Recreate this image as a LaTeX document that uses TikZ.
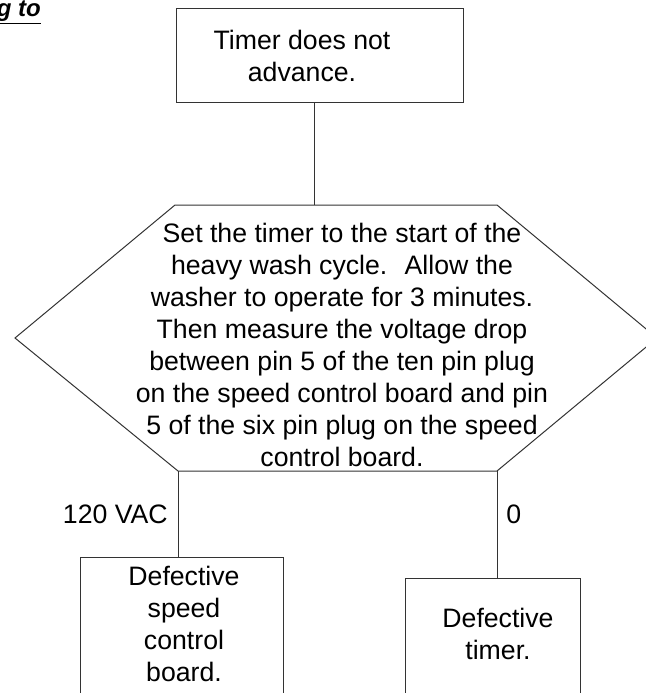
\documentclass[tikz,border=0pt]{standalone}
\usepackage{fontspec}
\setmainfont{Liberation Sans}
\usetikzlibrary{positioning}

\begin{document}
\begin{tikzpicture}[x=0.75pt, y=-0.75pt,
    every node/.style={font=\fontsize{20}{24}\selectfont, inner sep=0pt},
    box/.style={draw=black!80, line width=0.75pt, rectangle},
    txt/.style={align=center},
    link/.style={draw=black!80, line width=0.75pt}]
    \def\u{0.75pt}
    \useasboundingbox (0,0) rectangle (646,693);
    \clip (0,0) rectangle (646,693);

    % heading (cut off at the page edge)
    \node[anchor=base east, font=\fontsize{18}{21}\selectfont] (head) at (41,16) {\underline{\textbf{\textit{g to}}}};

    % start box
    \node[box, minimum width=287*\u, minimum height=94*\u] (start) at (319.5,55) {};
    \node[txt] (starttxt) at (302,55.5) {Timer does not\\advance.};

    % test hexagon
    \coordinate (hexW) at (15,338);
    \coordinate (hexTL) at (175,205);
    \coordinate (hexTR) at (497,205);
    \coordinate (hexE) at (657,338);
    \coordinate (hexBR) at (497,471);
    \coordinate (hexBL) at (178,471);
    \coordinate (hexTop) at (314,205);
    \draw[link] (hexW) -- (hexTL) -- (hexTR) -- (hexE) -- (hexBR) -- (hexBL) -- cycle;
    \node[txt] (test) at (342,345) {Set the timer to the start of the\\
        heavy wash cycle.~ Allow the\\
        washer to operate for 3 minutes.\\
        Then measure the voltage drop\\
        between pin 5 of the ten pin plug\\
        on the speed control board and pin\\
        5 of the six pin plug on the speed\\
        control board.};

    % results
    \node[box, anchor=north, minimum width=203*\u, minimum height=200*\u] (board) at (181.5,557) {};
    \node[txt, anchor=north] (boardtxt) at (184,565.5) {Defective\\speed\\control\\board.};
    \node[box, anchor=north, minimum width=175*\u, minimum height=200*\u] (timer) at (492.5,578) {};
    \node[txt, anchor=north] (timertxt) at (498,607.5) {Defective\\timer.};

    % edges
    \draw[link] (start.south -| hexTop) -- (hexTop);
    \draw[link] (hexBL) -- (hexBL |- board.north);
    \draw[link] (hexBR) -- (hexBR |- timer.north);

    % edge labels
    \node[anchor=base east] (volts) at (168,523) {120 VAC};
    \node[anchor=base west] (zero) at (506,523) {0};
\end{tikzpicture}
\end{document}
